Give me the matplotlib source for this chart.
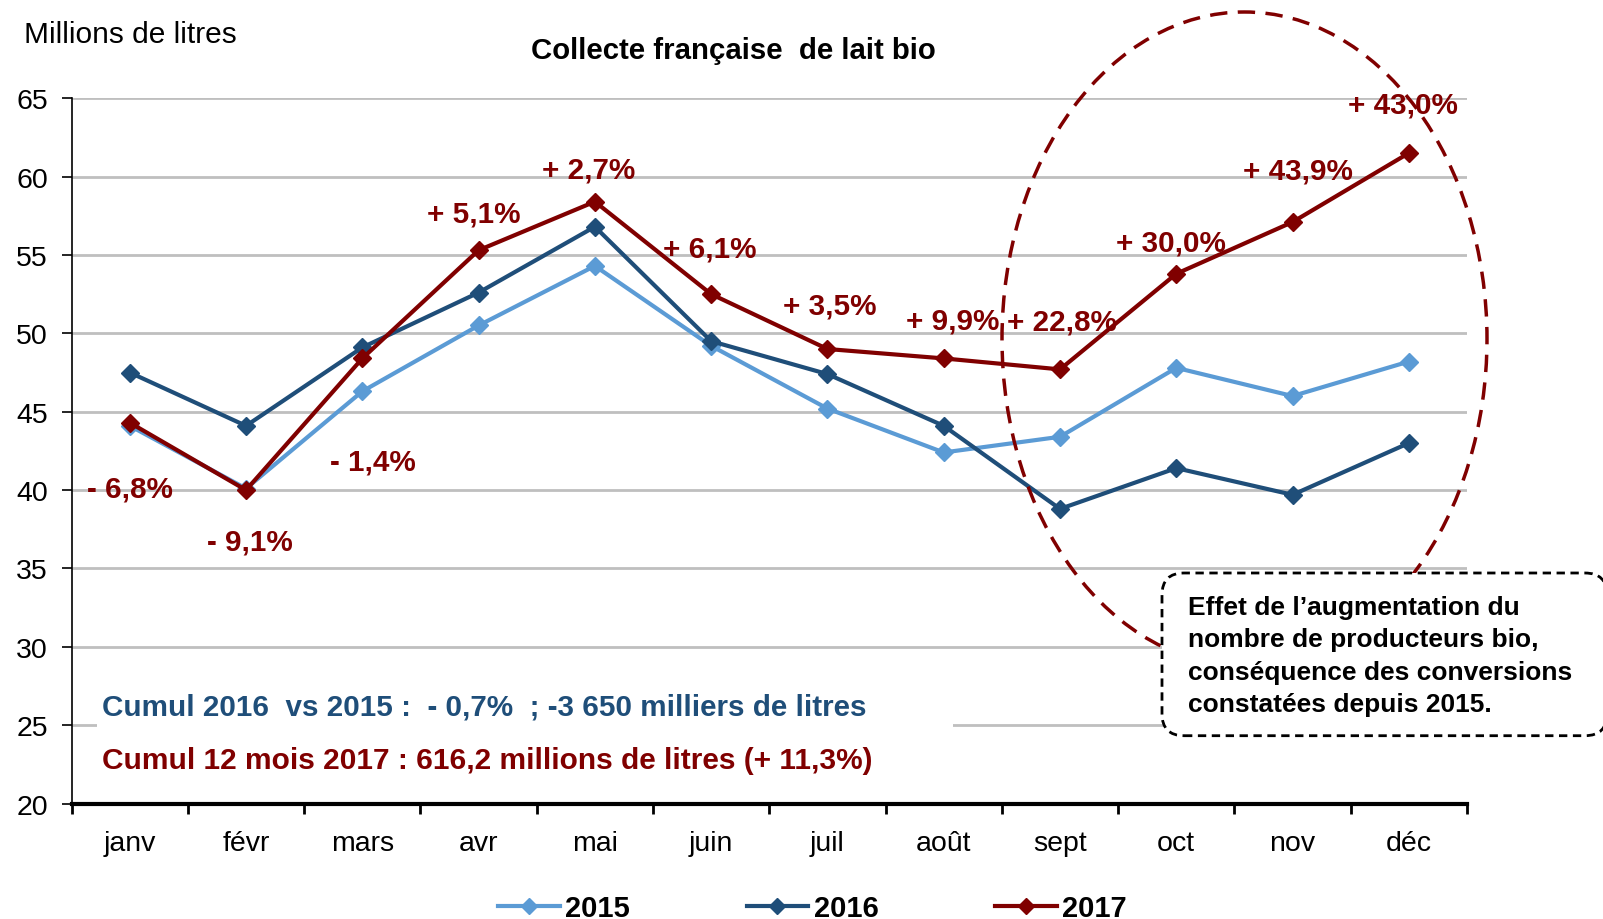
import matplotlib
matplotlib.use("Agg")
import matplotlib.pyplot as plt
from matplotlib.patches import Ellipse, FancyBboxPatch, Rectangle
from matplotlib.transforms import IdentityTransform

plt.rcParams['font.family'] = ['Liberation Sans', 'DejaVu Sans']

# Donnees (millions de litres)
mois = ["janv", "févr", "mars", "avr", "mai", "juin", "juil", "août", "sept", "oct", "nov", "déc"]
v2015 = [44.1, 40.1, 46.3, 50.5, 54.3, 49.2, 45.2, 42.4, 43.4, 47.8, 46.0, 48.2]
v2016 = [47.5, 44.1, 49.1, 52.6, 56.8, 49.5, 47.4, 44.1, 38.8, 41.4, 39.7, 43.0]
v2017 = [44.3, 40.0, 48.4, 55.3, 58.4, 52.5, 49.0, 48.4, 47.7, 53.8, 57.1, 61.5]
annees = ["2015", "2016", "2017"]

# evolution 2017 vs 2016 (texte, x en index de mois, y en millions de litres)
evol_txt = ["- 6,8%", "- 9,1%", "- 1,4%", "+ 5,1%", "+ 2,7%", "+ 6,1%",
            "+ 3,5%", "+ 9,9%", "+ 22,8%", "+ 30,0%", "+ 43,9%", "+ 43,0%"]
evol_x = [0.0, 1.03, 2.09, 2.96, 3.95, 4.99, 6.02, 7.08, 8.02, 8.95, 10.05, 10.95]
evol_y = [40.1, 36.7, 41.8, 57.66, 60.44, 55.4, 51.8, 50.8, 50.75, 55.8, 60.4, 64.57]

cumul_lignes = ["Cumul 2016  vs 2015 :  - 0,7%  ; -3 650 milliers de litres",
                "Cumul 12 mois 2017 : 616,2 millions de litres (+ 11,3%)"]
encadre = ["Effet de l\u2019augmentation du",
           "nombre de producteurs bio,",
           "conséquence des conversions",
           "constatées depuis 2015."]

c15 = "#5B9BD5"
c16 = "#1F4E79"
c17 = "#800000"

W, H = 1603, 920
fig = plt.figure(figsize=(W / 100, H / 100), dpi=100)
ax = fig.add_axes([71.6 / W, 1 - 804.6 / H, (1467 - 71.6) / W, (804.6 - 99.2) / H])

x = list(range(len(mois)))
for vals, col, lab in zip([v2015, v2016, v2017], [c15, c16, c17], annees):
    ax.plot(x, vals, color=col, lw=3, marker="D", markersize=9.5, label=lab, zorder=3)

ax.set_xlim(-0.5, 11.5)
ax.set_ylim(20, 65)
ax.set_yticks(range(20, 66, 5))
ax.yaxis.grid(True, color="#BFBFBF", lw=2)
ax.set_axisbelow(True)
ax.tick_params(axis="y", labelsize=20.5, length=7, width=1.2, pad=10, direction="out")

# graduations entre les mois, etiquettes au centre
ax.set_xticks([i - 0.5 for i in range(13)])
ax.set_xticklabels([])
ax.set_xticks(x, minor=True)
ax.set_xticklabels(mois, minor=True)
ax.tick_params(axis="x", which="major", length=7, width=2, direction="out")
ax.tick_params(axis="x", which="minor", length=0, labelsize=20.5, pad=19)

for s in ["top", "right"]:
    ax.spines[s].set_visible(False)
ax.spines["left"].set_linewidth(1.2)
ax.spines["bottom"].set_linewidth(3)

# etiquettes d'evolution
for t, tx, ty in zip(evol_txt, evol_x, evol_y):
    ax.text(tx, ty, t, color=c17, fontsize=21.3, fontweight="bold", ha="center", va="center", zorder=5)

# fond blanc sous les cumuls
ax.add_patch(Rectangle((0.018, 0.03), 0.614, 0.14, transform=ax.transAxes,
                       facecolor="white", edgecolor="none", zorder=1))
ax.text(0.0218, 0.1378, cumul_lignes[0], transform=ax.transAxes, color=c16,
        fontsize=21.3, fontweight="bold", ha="left", va="center", zorder=2)
ax.text(0.0218, 0.0624, cumul_lignes[1], transform=ax.transAxes, color=c17,
        fontsize=21.5, fontweight="bold", ha="left", va="center", zorder=2)

# titre et unite
fig.text(733 / W, 1 - 51 / H, "Collecte française  de lait bio", fontsize=21.2,
         fontweight="bold", ha="center", va="center")
fig.text(24.5 / W, 1 - 35 / H, "Millions de litres", fontsize=21.5, ha="left", va="center")

# ellipse en pointilles (pixels)
ell = Ellipse((1244.5, H - 340), 485, 654, transform=IdentityTransform(), fill=False,
              edgecolor=c17, lw=2.5, linestyle=(0, (5, 3)), zorder=6)
fig.add_artist(ell)

# encadre
box = FancyBboxPatch((1162, H - 736.7), 445, 162.7, boxstyle="round,pad=0,rounding_size=22",
                     transform=IdentityTransform(), facecolor="white", edgecolor="black",
                     lw=2, linestyle=(0, (3, 2)), zorder=7)
fig.add_artist(box)
for i, ligne in enumerate(encadre):
    t = fig.text(1188 / W, 1 - (608 + i * 32.3) / H, ligne, fontsize=19, fontweight="bold",
                 ha="left", va="center")
    t.set_zorder(8)

leg = fig.legend(loc="center", bbox_to_anchor=(0.507, 1 - 909 / H), ncol=3, frameon=False,
                 prop={"size": 21, "weight": "bold"}, handlelength=2.1, handletextpad=0.2,
                 columnspacing=4.0, markerscale=0.85)

fig.savefig("out.png", dpi=100)
